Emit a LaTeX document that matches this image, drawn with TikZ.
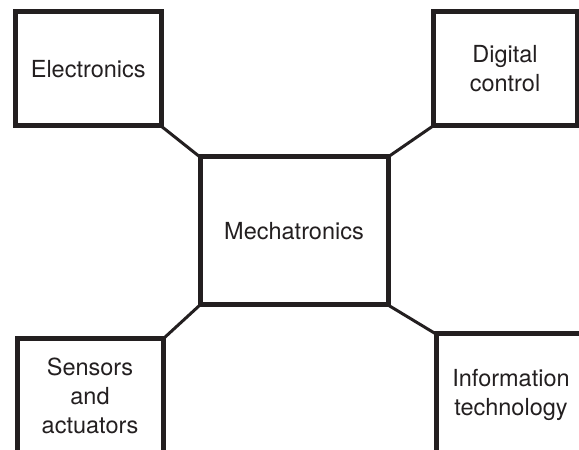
\documentclass[tikz,border=0pt]{standalone}
\usepackage{fontspec}
\setmainfont{TeX Gyre Heros}
\usepackage{tikz}
\definecolor{ink}{HTML}{231F20}

\begin{document}
\begin{tikzpicture}[x=1pt, y=1pt,
    box/.style={draw=ink, line width=5pt, outer sep=0pt, inner sep=0pt, align=center,
        text=ink, font=\fontsize{23.5}{29}\selectfont},
    link/.style={draw=ink, line width=3pt}]
    \useasboundingbox (0,0) rectangle (579,450);
    \clip (0,0) rectangle (579,450);
    % centre and the four fields
    \node[box, minimum width=188pt, minimum height=148pt] (mech) at (294,219) {Mechatronics};
    \node[box, minimum width=145.5pt, minimum height=114pt] (elec) at (88.25,381) {Electronics};
    \node[box, minimum width=144pt, minimum height=114pt] (digi) at (505,381) {Digital\\control};
    \node[box, minimum width=146pt, minimum height=114pt] (sens) at (90,54) {Sensors\\and\\actuators};
    \node[box, minimum width=150pt, minimum height=121pt] (info) at (511,55.5) {Information\\technology};
    % connectors
    \draw[link] (elec.south east) -- (mech.north west);
    \draw[link] (digi.south west) -- (mech.north east);
    \draw[link] (sens.north east) -- (mech.south west);
    \draw[link] (info.north west) -- (mech.south east);
\end{tikzpicture}
\end{document}
